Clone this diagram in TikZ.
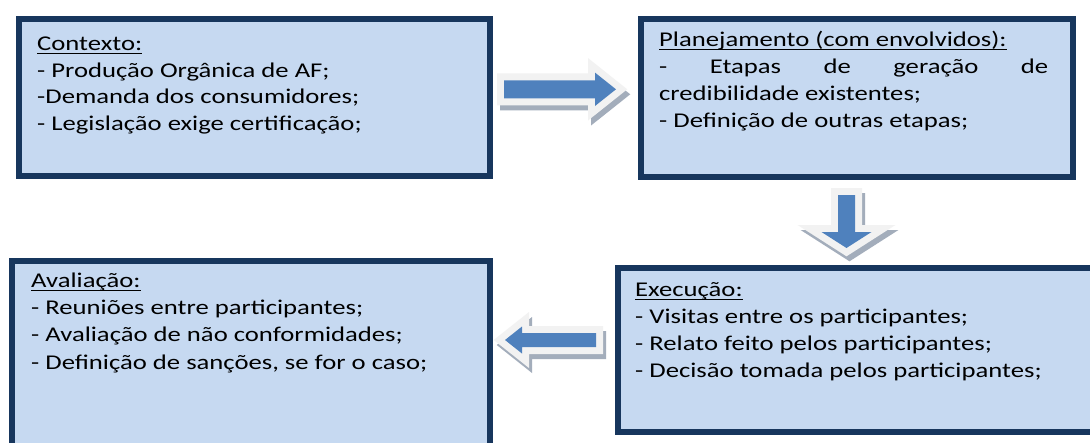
\documentclass[tikz,border=0pt]{standalone}
\usepackage{fontspec}
\setmainfont[FakeStretch=1.27]{Carlito}
\definecolor{bordc}{RGB}{23,54,93}
\definecolor{fillc}{RGB}{198,217,241}
\definecolor{arrblue}{RGB}{79,129,189}
\definecolor{arrlight}{RGB}{242,242,242}
\definecolor{arrshadow}{RGB}{163,173,187}
\newcommand\hdr[1]{\setbox0\hbox{#1}\rlap{\rule[-4pt]{\wd0}{1.4pt}}\box0}
% block arrow: x, y (tail centre), angle, body length, body half, head length, head half
\newcommand\blkarrow[7]{%
  \begin{scope}[shift={(#1+3,#2+5)},rotate=#3]
    \path[draw=arrshadow,fill=arrshadow,line width=14pt,line join=miter]
      (0,-#5) -- (#4,-#5) -- (#4,-#7) -- (#4+#6,0) -- (#4,#7) -- (#4,#5) -- (0,#5) -- cycle;
  \end{scope}
  \begin{scope}[shift={(#1,#2)},rotate=#3]
    \path[draw=arrlight,line width=14pt,line join=miter]
      (0,-#5) -- (#4,-#5) -- (#4,-#7) -- (#4+#6,0) -- (#4,#7) -- (#4,#5) -- (0,#5) -- cycle;
    \path[fill=arrblue]
      (0,-#5) -- (#4,-#5) -- (#4,-#7) -- (#4+#6,0) -- (#4,#7) -- (#4,#5) -- (0,#5) -- cycle;
  \end{scope}}
\begin{document}
\begin{tikzpicture}[x=1pt,y=-1pt,
  box/.style={draw=bordc,fill=fillc,line width=6pt,inner sep=0pt,anchor=north west,rectangle},
  txt/.style={font=\fontsize{21}{#1}\selectfont,align=left,inner sep=0pt,anchor=north west,text=black}]
\clip (0,0) rectangle (1090,442);
\fill[white] (0,0) rectangle (1090,442);
% boxes
\node[box,minimum width=471pt,minimum height=157.5pt] (ctx) at (16,15.5) {};
\node[box,minimum width=432pt,minimum height=158pt] (pla) at (638,16) {};
\node[box,minimum width=485pt,minimum height=164pt] (exe) at (615,265) {};
\node[box,minimum width=478pt,minimum height=202pt] (ava) at (9,258) {};
% texts
\node[txt=26.8] (ctxt) at (37,50-18.76) {\strut\hdr{Contexto:}\\
- Produção Orgânica de AF;\\
-Demanda dos consumidores;\\
- Legislação exige certificação;};
\node[txt=27] (plat) at (659,46-18.9) {\strut\hdr{Planejamento (com envolvidos):}\\
\hbox to 389pt{-\hfill Etapas\hfill de\hfill geração\hfill de}\\
credibilidade existentes;\\
- Definição de outras etapas;};
\node[txt=27] (exet) at (635,296-18.9) {\strut\hdr{Execução:}\\
- Visitas entre os participantes;\\
- Relato feito pelos participantes;\\
- Decisão tomada pelos participantes;};
\node[txt=27.3] (avat) at (31,287-19.11) {\strut\hdr{Avaliação:}\\
- Reuniões entre participantes;\\
- Avaliação de não conformidades;\\
- Definição de sanções, se for o caso;};
% arrows
\blkarrow{504}{89.3}{0}{91}{9}{21}{16.7}
\blkarrow{846.5}{195}{-90}{37}{8.5}{16}{25}
\blkarrow{596}{340}{180}{74}{7}{17}{13.5}
\end{tikzpicture}
\end{document}
